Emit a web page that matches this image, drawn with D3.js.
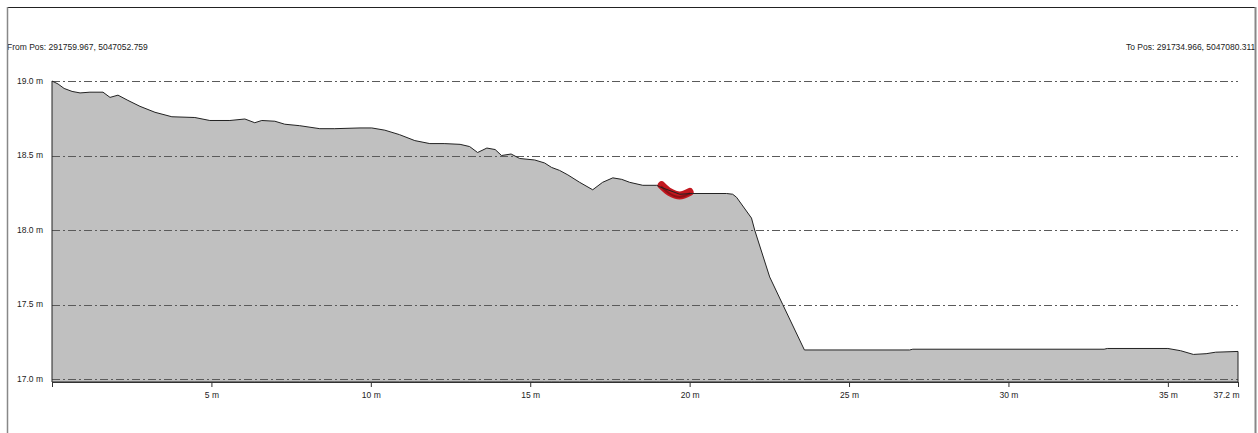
<!DOCTYPE html>
<html>
<head>
<meta charset="utf-8">
<script src="https://cdn.jsdelivr.net/npm/d3@7/dist/d3.min.js"></script>
<style>
  html, body { margin: 0; padding: 0; background: #fff; }
  svg { display: block; font-family: "Liberation Sans", Arial, sans-serif; }
</style>
</head>
<body>
<svg id="chart" width="1258" height="433"></svg>
<script>
// ---- data ----
const distances = [0, 0.19, 0.38, 0.63, 0.88, 1.19, 1.6, 1.82, 2.07, 2.38, 2.76, 3.23, 3.76, 4.48, 4.95, 5.58, 6.05, 6.36, 6.58, 6.99, 7.3, 7.77, 8.4, 8.87, 9.66, 10.03, 10.44, 10.9, 11.38, 11.85, 12.3, 12.8, 13.1, 13.35, 13.64, 13.9, 14.1, 14.4, 14.67, 15.14, 15.45, 15.67, 15.92, 16.18, 16.55, 16.96, 17.27, 17.59, 17.87, 18.12, 18.53, 18.97, 19.06, 19.69, 20.09, 21.16, 21.35, 21.47, 21.94, 22.04, 22.51, 22.92, 23.6, 26.9, 27.0, 33.0, 33.1, 35.0, 35.4, 35.8, 36.2, 36.5, 37.2];
const elevations = [19.0, 18.98, 18.95, 18.93, 18.92, 18.925, 18.925, 18.89, 18.905, 18.87, 18.83, 18.79, 18.76, 18.755, 18.735, 18.735, 18.745, 18.72, 18.735, 18.73, 18.71, 18.70, 18.68, 18.68, 18.685, 18.685, 18.67, 18.64, 18.60, 18.58, 18.58, 18.575, 18.56, 18.52, 18.55, 18.54, 18.50, 18.51, 18.48, 18.47, 18.45, 18.42, 18.40, 18.37, 18.32, 18.27, 18.32, 18.35, 18.34, 18.32, 18.30, 18.30, 18.29, 18.24, 18.245, 18.245, 18.24, 18.22, 18.08, 18.0, 17.685, 17.5, 17.195, 17.195, 17.2, 17.2, 17.205, 17.205, 17.19, 17.165, 17.17, 17.18, 17.185];
const markDistances = [19.12, 19.37, 19.69, 20.0];
const markElevations = [18.30, 18.255, 18.232, 18.255];
const yTicks = [17.0, 17.5, 18.0, 18.5, 19.0];
const xTicks = [0, 5, 10, 15, 20, 25, 30, 35, 37.2];
const fromLabel = "From Pos: 291759.967, 5047052.759";
const toLabel = "To Pos: 291734.966, 5047080.311";

// ---- layout ----
const svg = d3.select("#chart");
const x = d3.scaleLinear().domain([0, 37.2]).range([52, 1238]);
const y = d3.scaleLinear().domain([16.98, 19.0]).range([382, 81]);
const FS = 8.5;

const profile = distances.map((d, i) => [d, elevations[i]]);
const mark = markDistances.map((d, i) => [d, markElevations[i]]);

function grid(g) {
  g.selectAll("line").data(yTicks).join("line")
    .attr("x1", x(0)).attr("x2", x(37.2))
    .attr("y1", d => Math.round(y(d)) + 0.5).attr("y2", d => Math.round(y(d)) + 0.5)
    .attr("stroke", "#5a5a5a").attr("stroke-width", 1)
    .attr("stroke-dasharray", "8,3,2,3");
}
svg.append("g").call(grid);

// area
const area = d3.area().x(d => x(d[0])).y0(y(16.98)).y1(d => y(d[1]));
svg.append("path").datum(profile)
  .attr("d", area)
  .attr("fill", "#c0c0c0");

svg.append("g").call(grid);

// red mark
const line = d3.line().x(d => x(d[0])).y(d => y(d[1])).curve(d3.curveCatmullRom);
svg.append("path").datum(mark)
  .attr("d", line)
  .attr("fill", "none")
  .attr("stroke", "#c21820")
  .attr("stroke-width", 8)
  .attr("stroke-linecap", "round")
  .attr("stroke-linejoin", "round");
svg.append("path").datum(mark)
  .attr("d", line)
  .attr("fill", "none")
  .attr("stroke", "#8e1016")
  .attr("stroke-width", 2)
  .attr("transform", "translate(0,1.5)")
  .attr("stroke-linecap", "round");

// outline of profile
svg.append("path").datum(profile)
  .attr("d", area)
  .attr("fill", "none")
  .attr("stroke", "#222")
  .attr("stroke-width", 1);

// x axis
const xAxis = d3.axisBottom(x).tickValues(xTicks).tickSize(5).tickSizeOuter(0)
  .tickFormat(d => d === 0 ? "" : (d3.format("~g")(d) + " m"));
const gx = svg.append("g").attr("transform", `translate(0,${y(16.98)})`).call(xAxis);
gx.select(".domain").attr("stroke", "#333");
gx.selectAll(".tick line").attr("stroke", "#333");
gx.selectAll(".tick text").attr("font-size", FS).attr("fill", "#222")
  .attr("font-family", "Liberation Sans, Arial, sans-serif").attr("dy", "0.95em")
  .attr("text-anchor", d => d === 37.2 ? "end" : "middle")
  .attr("x", d => d === 37.2 ? 1 : 0);

// y labels
svg.append("g").selectAll("text").data(yTicks).join("text")
  .attr("x", 43).attr("y", d => y(d)).attr("dy", "0.35em")
  .attr("text-anchor", "end").attr("font-size", FS).attr("fill", "#222")
  .text(d => d.toFixed(1) + " m");

// position labels
svg.append("text").attr("x", 7).attr("y", 50).attr("font-size", FS).attr("fill", "#222").text(fromLabel);
svg.append("text").attr("x", 1126).attr("y", 50).attr("font-size", FS).attr("fill", "#222").text(toLabel);

// frame
svg.append("line").attr("x1", 7).attr("x2", 1256).attr("y1", 7.5).attr("y2", 7.5).attr("stroke", "#222").attr("stroke-width", 1);
svg.append("line").attr("x1", 7.5).attr("x2", 7.5).attr("y1", 7).attr("y2", 433).attr("stroke", "#888").attr("stroke-width", 1.5);
svg.append("line").attr("x1", 1255.5).attr("x2", 1255.5).attr("y1", 7).attr("y2", 433).attr("stroke", "#888").attr("stroke-width", 2);
</script>
</body>
</html>
